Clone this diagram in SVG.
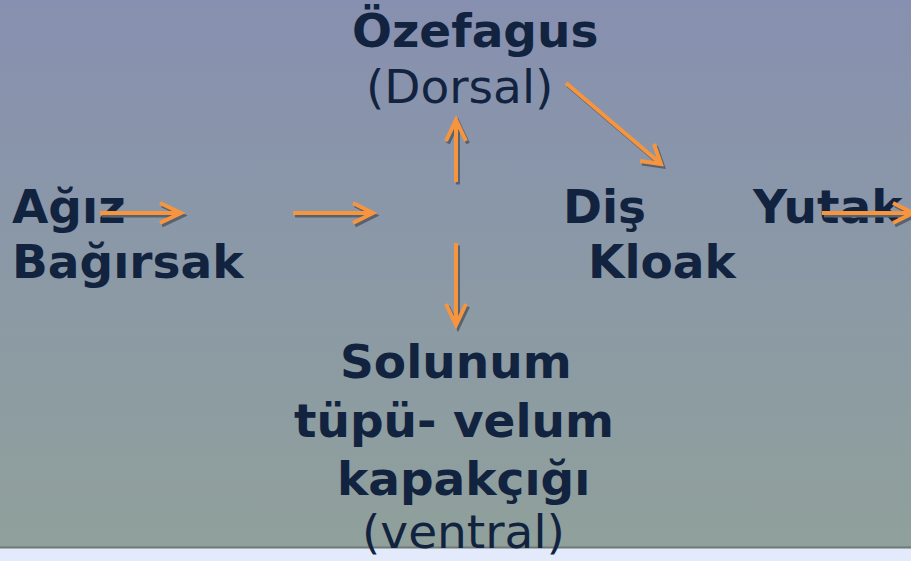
<svg xmlns="http://www.w3.org/2000/svg" width="911" height="561" viewBox="0 0 911 561">
  <defs>
    <linearGradient id="bg" x1="0" y1="0" x2="0" y2="1">
      <stop offset="0" stop-color="#8790b0"/>
      <stop offset="0.5" stop-color="#8b99a6"/>
      <stop offset="1" stop-color="#90a09b"/>
    </linearGradient>
  </defs>
  <style>
    .t { font-family: "DejaVu Sans", sans-serif; font-size: 47px; fill: #12233f; }
    .b { font-weight: bold; }
    .sh { fill: none; stroke: #59626f; stroke-width: 4; stroke-linecap: butt; stroke-linejoin: miter; }
    .ar { fill: none; stroke: #f7953f; stroke-width: 4; stroke-linecap: butt; stroke-linejoin: miter; }
  </style>
  <rect x="0" y="0" width="911" height="548" fill="url(#bg)"/>
  <rect x="0" y="548" width="911" height="13" fill="#e2eafb"/>
  <rect x="0" y="546.5" width="911" height="2" fill="#6e7977"/>

  <g id="node-ozefagus">
    <text class="t b" x="352" y="47">Özefagus</text>
    <text class="t" x="366" y="103">(Dorsal)</text>
  </g>
  <g id="node-agiz">
    <text class="t b" x="12" y="223">Ağız</text>
    <text class="t b" x="12" y="278">Bağırsak</text>
  </g>
  <g id="node-dis">
    <text class="t b" x="563" y="223">Diş</text>
    <text class="t b" x="588" y="278">Kloak</text>
  </g>
  <g id="node-yutak">
    <text class="t b" x="753" y="223">Yutak</text>
  </g>
  <g id="node-solunum">
    <text class="t b" x="340" y="378">Solunum</text>
    <text class="t b" x="294" y="437">tüpü- velum</text>
    <text class="t b" x="337" y="495">kapakçığı</text>
    <text class="t" x="362" y="548">(ventral)</text>
  </g>

  <g id="connectors">
    <g transform="translate(2,2.5)">
      <path class="sh" d="M100 213 H181 M160 203 L181 213 L160 223"/>
      <path class="sh" d="M293 213 H373 M353 203 L373 213 L353 223"/>
      <path class="sh" d="M456 182 V120 M446 141 L456 120 L466 141"/>
      <path class="sh" d="M566 83 L661 164 M654 144 L661 164 L640 161"/>
      <path class="sh" d="M456 243 V325 M446 304 L456 325 L466 304"/>
      <path class="sh" d="M822 213 H911 M893 203 L913 213 L893 223"/>
    </g>
    <path class="ar" d="M100 213 H181 M160 203 L181 213 L160 223"/>
    <path class="ar" d="M293 213 H373 M353 203 L373 213 L353 223"/>
    <path class="ar" d="M456 182 V120 M446 141 L456 120 L466 141"/>
    <path class="ar" d="M566 83 L661 164 M654 144 L661 164 L640 161"/>
    <path class="ar" d="M456 243 V325 M446 304 L456 325 L466 304"/>
    <path class="ar" d="M822 213 H911 M893 203 L913 213 L893 223"/>
  </g>
</svg>
